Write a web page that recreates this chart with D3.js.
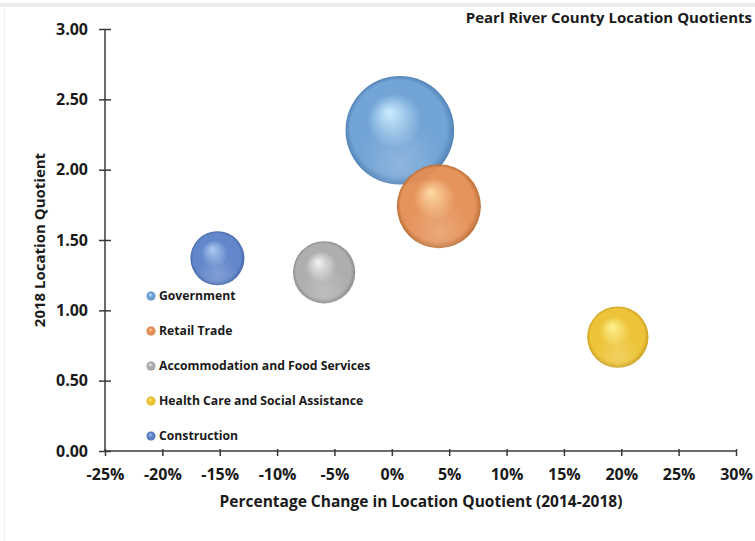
<!DOCTYPE html>
<html>
<head>
<meta charset="utf-8">
<script src="https://cdn.jsdelivr.net/npm/d3@7"></script>
<style>
  body { margin: 0; background: #fff; }
  svg { display: block; }
  text { font-family: "Open Sans", sans-serif; font-weight: bold; fill: #1a1a1a; }
</style>
</head>
<body>
<div id="chart"></div>
<script>
// industries, in legend order
const industries = ["Government", "Retail Trade", "Accommodation and Food Services", "Health Care and Social Assistance", "Construction"];
// percentage change in LQ 2014-2018
const pctChange = [0.7, 4.1, -5.9, 19.7, -15.2];
// 2018 location quotient
const lq2018 = [2.28, 1.74, 1.27, 0.81, 1.37];
// bubble size (employment)
const bubbleSize = [2950, 1770, 970, 940, 730];
// base, highlight, edge colours per industry
const baseColors = ["#6b9fd3", "#e48e52", "#aaaaaa", "#ecc12e", "#5a80c8"];
const lightColors = ["#c8ecff", "#ffd8a0", "#f2f2f2", "#fff290", "#a9c8f2"];
const edgeColors = ["#4a7db4", "#b8692f", "#868686", "#c99c16", "#3d5fa6"];

const xTicks = [-25, -20, -15, -10, -5, 0, 5, 10, 15, 20, 25, 30];
const yTicks = [0, 0.5, 1, 1.5, 2, 2.5, 3];

const W = 755, H = 541;
const svg = d3.select('#chart').append('svg').attr('width', W).attr('height', H);

// faint frame bits of the screenshot
svg.append('rect').attr('x', 0).attr('y', 3).attr('width', W).attr('height', 4).attr('fill', '#ececec');
svg.append('line').attr('x1', 4.5).attr('x2', 4.5).attr('y1', 8).attr('y2', H).attr('stroke', '#f3f3f3');

const x = d3.scaleLinear().domain([-25, 30]).range([105, 736]);
const y = d3.scaleLinear().domain([0, 3]).range([451, 29]);
const r = d3.scaleSqrt().domain([0, d3.max(bubbleSize)]).range([0, 54.3]);

// gradients
const defs = svg.append('defs');
industries.forEach((d, i) => {
  const g = defs.append('radialGradient').attr('id', 'g' + i)
    .attr('cx', '50%').attr('cy', '50%').attr('r', '50%')
    .attr('fx', '40%').attr('fy', '33%');
  g.append('stop').attr('offset', '0%').attr('stop-color', lightColors[i]);
  g.append('stop').attr('offset', '50%').attr('stop-color', baseColors[i]);
  g.append('stop').attr('offset', '88%').attr('stop-color', baseColors[i]);
  g.append('stop').attr('offset', '100%').attr('stop-color', edgeColors[i]);
});
const refl = defs.append('radialGradient').attr('id', 'refl')
  .attr('cx', '50%').attr('cy', '80%').attr('r', '38%');
refl.append('stop').attr('offset', '0%').attr('stop-color', '#fff').attr('stop-opacity', 0.2);
refl.append('stop').attr('offset', '100%').attr('stop-color', '#fff').attr('stop-opacity', 0);

// axes
const axisColor = '#3a3a3a';
const gx = svg.append('g').attr('transform', `translate(0,${y(0)})`)
  .call(d3.axisBottom(x).tickValues(xTicks).tickFormat(d => d + '%').tickSize(6).tickPadding(12));
const gy = svg.append('g').attr('transform', `translate(${x(-25)},0)`)
  .call(d3.axisLeft(y).tickValues(yTicks).tickFormat(d3.format('.2f')).tickSize(6).tickPadding(11));
[gx, gy].forEach(g => {
  g.select('.domain').attr('stroke', axisColor).attr('stroke-width', 1.5);
  g.selectAll('.tick line').attr('stroke', axisColor).attr('stroke-width', 1.5);
  g.selectAll('.tick text').attr('fill', '#1a1a1a').style('font-size', '16px')
    .style('font-family', '"Open Sans", sans-serif').style('font-weight', 'bold');
});
gx.selectAll('.tick line').attr('y1', -2).attr('y2', 5);
gy.selectAll('.tick line').attr('x1', 6).attr('x2', -6);
gy.select('.domain').attr('d', `M0,${y(0)}V${y(3)}`);
gx.select('.domain').attr('d', `M${x(-25)},0H${x(30)}`);
gx.selectAll('.tick text').attr('dy', '0.71em');

// bubbles
const idx = d3.range(industries.length);
const bub = svg.append('g').selectAll('g').data(idx).enter().append('g');
bub.append('circle')
  .attr('cx', i => x(pctChange[i])).attr('cy', i => y(lq2018[i])).attr('r', i => r(bubbleSize[i]))
  .attr('fill', i => `url(#g${i})`).attr('fill-opacity', 0.95);
bub.append('circle')
  .attr('cx', i => x(pctChange[i])).attr('cy', i => y(lq2018[i])).attr('r', i => r(bubbleSize[i]))
  .attr('fill', 'url(#refl)');

// legend
const leg = svg.append('g').selectAll('g').data(idx).enter().append('g')
  .attr('transform', i => `translate(151,${296 + i * 35})`);
leg.append('circle').attr('r', 4.5).attr('fill', i => `url(#g${i})`);
leg.append('text').attr('x', 8).attr('dy', '0.35em').style('font-size', '12.2px')
  .text(i => industries[i]);

// titles
svg.append('text').attr('x', 752).attr('y', 23).attr('text-anchor', 'end')
  .style('font-size', '15px').text('Pearl River County Location Quotients');
svg.append('text').attr('x', 421).attr('y', 507).attr('text-anchor', 'middle')
  .style('font-size', '15.5px').text('Percentage Change in Location Quotient (2014-2018)');
svg.append('text').attr('transform', `translate(45,${240}) rotate(-90)`).attr('text-anchor', 'middle')
  .style('font-size', '15px').text('2018 Location Quotient');
</script>
</body>
</html>
